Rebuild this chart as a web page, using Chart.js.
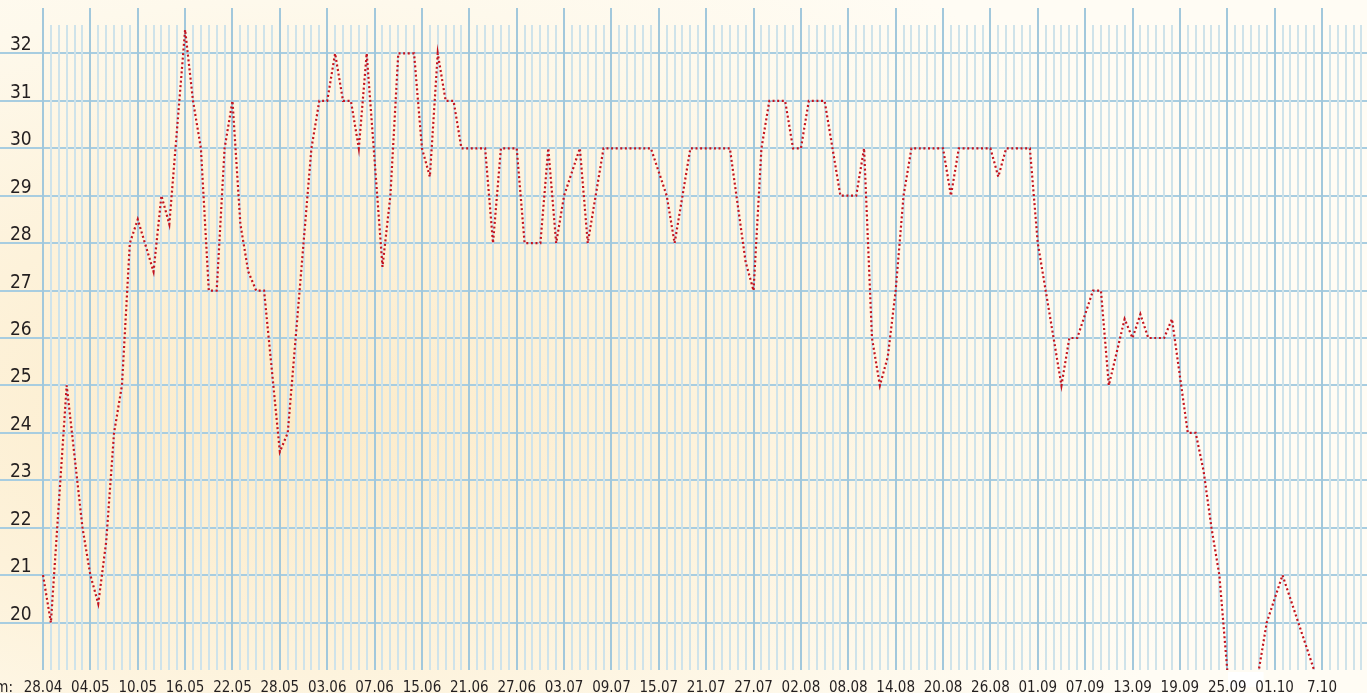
<!DOCTYPE html>
<html>
<head>
<meta charset="utf-8">
<script src="https://cdn.jsdelivr.net/npm/chart.js@4.4.1/dist/chart.umd.min.js"></script>
<style>
  html, body { margin: 0; padding: 0; }
  body {
    width: 1367px; height: 693px; overflow: hidden;
    background: radial-gradient(ellipse 950px 560px at 300px 420px, #fcebc9 0%, #fdf2da 40%, #fef9ec 75%, #fffcf4 100%);
  }
  #wrap { position: relative; width: 1367px; height: 693px; }
</style>
</head>
<body>
<div id="wrap"><canvas id="chart"></canvas></div>
<script>
  // one label per 6 days, day 0 = 28.04
  const dateLabels = [
    "28.04", "04.05", "10.05", "16.05", "22.05", "28.05", "03.06", "07.06", "15.06", "21.06",
    "27.06", "03.07", "09.07", "15.07", "21.07", "27.07", "02.08", "08.08", "14.08", "20.08",
    "26.08", "01.09", "07.09", "13.09", "19.09", "25.09", "01.10", "7.10",
  ];

  const days = [
    0, 1, 3, 5, 6, 7, 8, 9, 10, 11,
    12, 14, 15, 16, 18, 19, 20, 21, 22, 23,
    24, 25, 26, 27, 28, 30, 31, 34, 35, 36,
    37, 38, 39, 40, 41, 43, 44, 45, 47, 48,
    49, 50, 51, 52, 53, 56, 57, 58, 60, 61,
    63, 64, 65, 66, 68, 69, 71, 77, 79, 80,
    82, 87, 88, 89, 90, 91, 92, 94, 95, 96,
    97, 99, 100, 101, 103, 104, 105, 106, 107, 108,
    109, 110, 114, 115, 116, 120, 121, 122, 125, 126,
    127, 128, 129, 130, 131, 133, 134, 135, 137, 138,
    139, 140, 142, 143, 145, 146, 147, 148, 149, 150,
    151, 153, 154, 155, 157, 161, 162,
  ];

  const temps = [
    21, 20, 25, 22, 21, 20.4, 21.7, 24, 25, 28,
    28.5, 27.4, 29, 28.4, 32.5, 31, 30, 27, 27, 30,
    31, 28.4, 27.4, 27, 27, 23.6, 24, 30, 31, 31,
    32, 31, 31, 30, 32, 27.5, 29, 32, 32, 30,
    29.4, 32, 31, 31, 30, 30, 28, 30, 30, 28,
    28, 30, 28, 29, 30, 28, 30, 30, 29, 28,
    30, 30, 28.8, 27.6, 27, 30, 31, 31, 30, 30,
    31, 31, 30, 29, 29, 30, 26, 25, 25.6, 27,
    29, 30, 30, 29, 30, 30, 29.4, 30, 30, 28,
    27, 26, 25, 26, 26, 27, 27, 25, 26.4, 26,
    26.5, 26, 26, 26.4, 24, 24, 23.2, 22, 21, 19,
    18.5, 18.5, 19, 20, 21, 19, 18.5,
  ];

  const yTicks = [20, 21, 22, 23, 24, 25, 26, 27, 28, 29, 30, 31, 32];

  const FONT = "'Liberation Sans Narrow', 'Arial Narrow', 'DejaVu Sans Condensed', sans-serif";
  const PX_LEFT = 43;       // where day 0 sits
  const PX_PER_DAY = 7.895;

  const dayGrid = {
    id: "dayGrid",
    beforeDraw(chart) {
      const { ctx, chartArea: a, scales: { x } } = chart;
      // white patch under the bottom axis, behind the labels
      const x0 = x.getPixelForValue(150.1);
      const x1 = x.getPixelForValue(154.6);
      ctx.save();
      ctx.fillStyle = "#ffffff";
      ctx.fillRect(x0, a.bottom + 2, x1 - x0, 15);
      ctx.restore();
    },
    beforeDatasetsDraw(chart) {
      const { ctx, chartArea: a, scales: { x } } = chart;
      ctx.save();
      ctx.lineWidth = 2;
      for (let d = 0; d <= Math.floor(x.max); d++) {
        const px = Math.round(x.getPixelForValue(d));
        const major = d % 6 === 0;
        ctx.strokeStyle = major ? "#a2c8dc" : "#cfe3ea";
        ctx.beginPath();
        ctx.moveTo(px, a.top + (major ? 2 : 19));
        ctx.lineTo(px, a.bottom);
        ctx.stroke();
      }
      ctx.restore();
    },
    afterDraw(chart) {
      const { ctx, chartArea: a } = chart;
      ctx.save();
      ctx.font = `15px ${FONT}`;
      ctx.fillStyle = "#231f20";
      ctx.textAlign = "right";
      ctx.textBaseline = "top";
      ctx.fillText("Datum:", 13, a.bottom + 11);
      ctx.restore();
    },
  };

  const ctx = document.getElementById("chart").getContext("2d");
  new Chart(ctx, {
    type: "line",
    data: {
      datasets: [
        {
          data: days.map((d, i) => ({ x: d, y: temps[i] })),
          borderColor: "#c4121d",
          borderWidth: 2.2,
          borderDash: [2, 2.6],
          pointRadius: 0,
          tension: 0,
          fill: false,
        },
      ],
    },
    options: {
      responsive: true,
      maintainAspectRatio: false,
      animation: false,
      layout: { padding: { top: 6, left: 0, right: 0, bottom: 0 } },
      plugins: { legend: { display: false }, tooltip: { enabled: false } },
      scales: {
        x: {
          type: "linear",
          min: -PX_LEFT / PX_PER_DAY,
          max: (1367 - PX_LEFT) / PX_PER_DAY,
          afterBuildTicks: (s) => {
            s.ticks = dateLabels.map((_, i) => ({ value: i * 6 }));
          },
          afterFit: (s) => {
            s.height = 23;
            s.paddingLeft = 0;
            s.paddingRight = 0;
          },
          grid: { display: false, drawTicks: false },
          border: { display: false },
          ticks: {
            autoSkip: false,
            maxRotation: 0,
            padding: 11,
            color: "#231f20",
            font: { family: FONT, size: 15, lineHeight: 1 },
            callback: (v) => dateLabels[Math.round(v / 6)],
          },
        },
        y: {
          min: 19,
          max: 33,
          afterBuildTicks: (s) => {
            s.ticks = yTicks.map((v) => ({ value: v }));
          },
          afterFit: (s) => {
            s.width = 0;
            s.paddingTop = 0;
            s.paddingBottom = 0;
          },
          grid: { color: "#a8cde0", lineWidth: 2, drawTicks: false },
          border: { display: false },
          ticks: {
            mirror: true,
            padding: 10,
            labelOffset: -8,
            color: "#231f20",
            font: { family: FONT, size: 19 },
            callback: (v) => String(v),
          },
        },
      },
    },
    plugins: [dayGrid],
  });
</script>
</body>
</html>
